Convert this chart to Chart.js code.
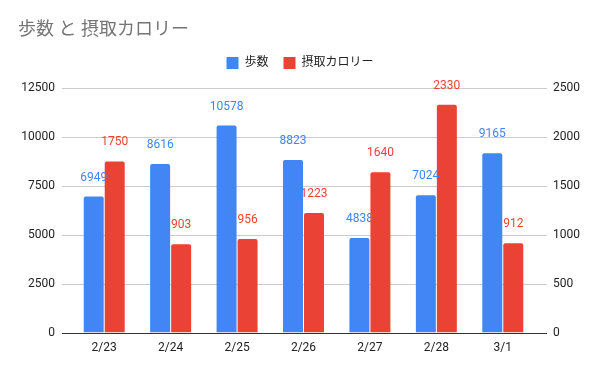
<!DOCTYPE html>
<html>
<head>
<meta charset="utf-8">
<script src="https://cdn.jsdelivr.net/npm/chart.js@4/dist/chart.umd.min.js"></script>
<style>
  html, body { margin: 0; padding: 0; background: #fff; }
  #wrap { width: 600px; height: 371px; }
</style>
</head>
<body>
<div id="wrap"><canvas id="chart" width="600" height="371"></canvas></div>
<script>
const FONT = "Roboto, 'Noto Sans CJK JP', sans-serif";
const TITLE = '歩数 と 摂取カロリー';

const days = ['2/23', '2/24', '2/25', '2/26', '2/27', '2/28', '3/1'];
const steps = [6949, 8616, 10578, 8823, 4838, 7024, 9165];
const calories = [1750, 903, 956, 1223, 1640, 2330, 912];
const stepTicks = [0, 2500, 5000, 7500, 10000, 12500];
const calorieTicks = [0, 500, 1000, 1500, 2000, 2500];

// title sits at the top left corner, not where chart.js would put it
const titlePlugin = {
  id: 'cornerTitle',
  afterDraw(chart) {
    const ctx = chart.ctx;
    ctx.save();
    ctx.font = `18px ${FONT}`;
    ctx.fillStyle = '#757575';
    ctx.textAlign = 'left';
    ctx.textBaseline = 'middle';
    ctx.fillText(TITLE, 18, 30);
    ctx.restore();
  }
};

// leave some more room under the legend
const legendGap = {
  id: 'legendGap',
  beforeUpdate(chart) {
    const legend = chart.legend;
    if (!legend || legend._gapPatched) {
      return;
    }
    const fit = legend.fit;
    legend.fit = function () {
      fit.call(this);
      this.height += 9;
    };
    legend._gapPatched = true;
  }
};

// horizontal gridlines run a bit past the bars, like the sheets chart
const gridPlugin = {
  id: 'wideGrid',
  beforeDatasetsDraw(chart) {
    const {ctx, chartArea} = chart;
    const y = chart.scales.y;
    const left = chartArea.left - 9, right = chartArea.right + 11;
    ctx.save();
    stepTicks.forEach(v => {
      const py = Math.round(y.getPixelForValue(v)) + 0.5;
      ctx.strokeStyle = v === 0 ? '#333333' : '#cccccc';
      ctx.lineWidth = 1;
      ctx.beginPath();
      ctx.moveTo(left, py);
      ctx.lineTo(right, py);
      ctx.stroke();
    });
    ctx.restore();
  }
};

const valueLabels = {
  id: 'valueLabels',
  afterDatasetsDraw(chart) {
    const ctx = chart.ctx;
    ctx.save();
    ctx.font = `12px ${FONT}`;
    ctx.textAlign = 'center';
    ctx.textBaseline = 'middle';
    chart.data.datasets.forEach((ds, i) => {
      ctx.fillStyle = ds.backgroundColor;
      chart.getDatasetMeta(i).data.forEach((bar, j) => {
        ctx.fillText(String(ds.data[j]), bar.x, bar.y - 19);
      });
    });
    ctx.restore();
  }
};

const tickFont = {family: FONT, size: 12};

new Chart(document.getElementById('chart').getContext('2d'), {
  type: 'bar',
  data: {
    labels: days,
    datasets: [{
      label: '歩数',
      data: steps,
      backgroundColor: '#4285f4',
      yAxisID: 'y',
      borderRadius: {topLeft: 2, topRight: 2},
      borderSkipped: 'bottom',
      categoryPercentage: 0.632,
      barPercentage: 0.952
    }, {
      label: '摂取カロリー',
      data: calories,
      backgroundColor: '#ea4335',
      yAxisID: 'y1',
      borderRadius: {topLeft: 2, topRight: 2},
      borderSkipped: 'bottom',
      categoryPercentage: 0.632,
      barPercentage: 0.952
    }]
  },
  options: {
    responsive: false,
    animation: false,
    layout: {
      padding: {top: 42, right: 0, bottom: 8, left: 0}
    },
    scales: {
      x: {
        grid: {display: false, drawTicks: false},
        border: {display: false},
        ticks: {color: '#222222', font: tickFont, padding: 8}
      },
      y: {
        position: 'left',
        min: 0,
        max: 12500,
        afterBuildTicks: s => { s.ticks = stepTicks.map(v => ({value: v})); },
        afterFit: s => { s.width = 71; },
        grid: {display: false, drawTicks: false},
        border: {display: false},
        ticks: {color: '#222222', font: tickFont, padding: 16, callback: v => String(v)}
      },
      y1: {
        position: 'right',
        min: 0,
        max: 2500,
        afterBuildTicks: s => { s.ticks = calorieTicks.map(v => ({value: v})); },
        afterFit: s => { s.width = 64; },
        grid: {display: false, drawTicks: false},
        border: {display: false},
        ticks: {color: '#222222', font: tickFont, padding: 17, callback: v => String(v)}
      }
    },
    plugins: {
      title: {display: false},
      legend: {
        labels: {
          boxWidth: 12,
          boxHeight: 12,
          color: '#222222',
          font: {family: FONT, size: 12},
          padding: 15
        }
      },
      tooltip: {enabled: false}
    }
  },
  plugins: [legendGap, gridPlugin, valueLabels, titlePlugin]
});
</script>
</body>
</html>
